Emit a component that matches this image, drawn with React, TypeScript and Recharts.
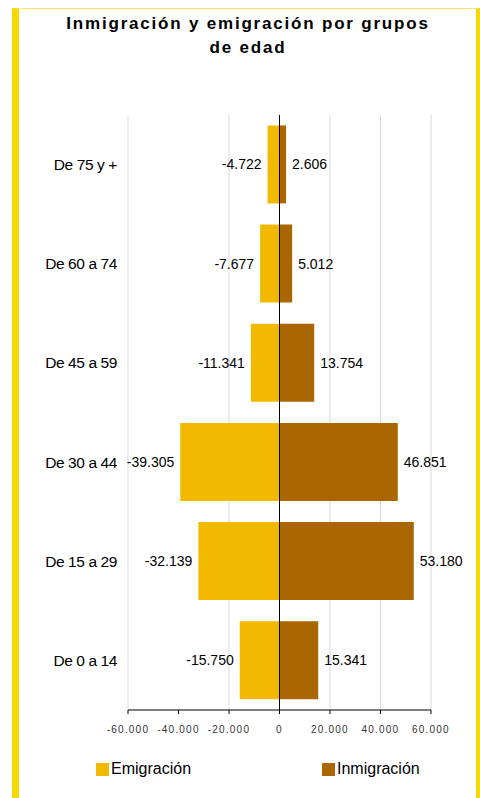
import { BarChart, Bar, XAxis, YAxis, CartesianGrid, ReferenceLine, LabelList } from 'recharts';

const grupos = ['De 75 y +', 'De 60 a 74', 'De 45 a 59', 'De 30 a 44', 'De 15 a 29', 'De 0 a 14'];
const emigracion = [-4722, -7677, -11341, -39305, -32139, -15750];
const inmigracion = [2606, 5012, 13754, 46851, 53180, 15341];
const xTicks = [-60000, -40000, -20000, 0, 20000, 40000, 60000];

const data = grupos.map((g, i) => ({ name: g, emig: emigracion[i], inmig: inmigracion[i] }));

const fmt = (v: number) => {
  const s = Math.abs(v).toString().replace(/\B(?=(\d{3})+(?!\d))/g, '.');
  return (v < 0 ? '-' : '') + s;
};

const font = '"Liberation Sans", Arial, sans-serif';

// label on the outer (left) end of the negative bars
const LeftLabel = (props: any) => {
  const { x, y, width, height, value } = props;
  const left = Math.min(Number(x), Number(x) + Number(width));
  return (
    <text x={left - 6} y={Number(y) + Number(height) / 2} textAnchor="end" dominantBaseline="central" fill="#000" fontSize={14} fontFamily={font}>
      {fmt(value)}
    </text>
  );
};

const RightLabel = (props: any) => {
  const { x, y, width, height, value } = props;
  const right = Math.max(Number(x), Number(x) + Number(width));
  return (
    <text x={right + 6} y={Number(y) + Number(height) / 2} textAnchor="start" dominantBaseline="central" fill="#000" fontSize={14} fontFamily={font}>
      {fmt(value)}
    </text>
  );
};

const App = () => {
  return (
    <div style={{ position: 'absolute', left: 0, top: 0, width: 480, height: 798, background: '#fff', fontFamily: font, overflow: 'hidden' }}>
      {/* yellow frame */}
      <div style={{ position: 'absolute', left: 12, top: 8, width: 457, height: 800, borderLeft: '7px solid #F5D800', borderRight: '5px solid #F5D800', borderTop: '1px solid #F8E56A' }} />

      <div style={{ position: 'absolute', left: 20, width: 456, top: 12, textAlign: 'center', fontWeight: 'bold', fontSize: 17, letterSpacing: 1.8, lineHeight: '24px', color: '#000' }}>
        Inmigración y emigración por grupos
        <br />
        de edad
      </div>

      <div style={{ position: 'absolute', left: 0, top: 0 }}>
        <BarChart
          width={480}
          height={798}
          data={data}
          layout="vertical"
          stackOffset="sign"
          barCategoryGap="10.5%"
          margin={{ top: 115, right: 49, bottom: 58, left: 28 }}
        >
          <CartesianGrid horizontal={false} stroke="#d9d9d9" />
          <XAxis
            type="number"
            domain={[-60000, 60000]}
            ticks={xTicks}
            tickFormatter={fmt}
            height={30}
            tickSize={4}
            tickMargin={12}
            stroke="#000"
            tick={{ fill: '#333', fontSize: 10, fontFamily: font, letterSpacing: 1.2 }}
          />
          <YAxis
            type="category"
            dataKey="name"
            width={100}
            axisLine={false}
            tickLine={false}
            tickSize={0}
            tickMargin={11}
            tick={{ fill: '#000', fontSize: 15.5, fontFamily: font, letterSpacing: -0.4 }}
          />
          <Bar dataKey="emig" stackId="a" fill="#F2B900" isAnimationActive={false}>
            <LabelList dataKey="emig" content={LeftLabel} />
          </Bar>
          <Bar dataKey="inmig" stackId="a" fill="#AA6600" isAnimationActive={false}>
            <LabelList dataKey="inmig" content={RightLabel} />
          </Bar>
          <ReferenceLine x={0} stroke="#000" strokeWidth={1} />
        </BarChart>
      </div>

      <div style={{ position: 'absolute', top: 760, left: 96, display: 'flex', alignItems: 'center', fontSize: 16, color: '#000' }}>
        <span style={{ width: 13, height: 13, background: '#F2B900', display: 'inline-block', marginRight: 2 }} />
        Emigración
      </div>
      <div style={{ position: 'absolute', top: 760, left: 322, display: 'flex', alignItems: 'center', fontSize: 16, color: '#000' }}>
        <span style={{ width: 13, height: 13, background: '#AA6600', display: 'inline-block', marginRight: 2 }} />
        Inmigración
      </div>
    </div>
  );
};

export default App;
